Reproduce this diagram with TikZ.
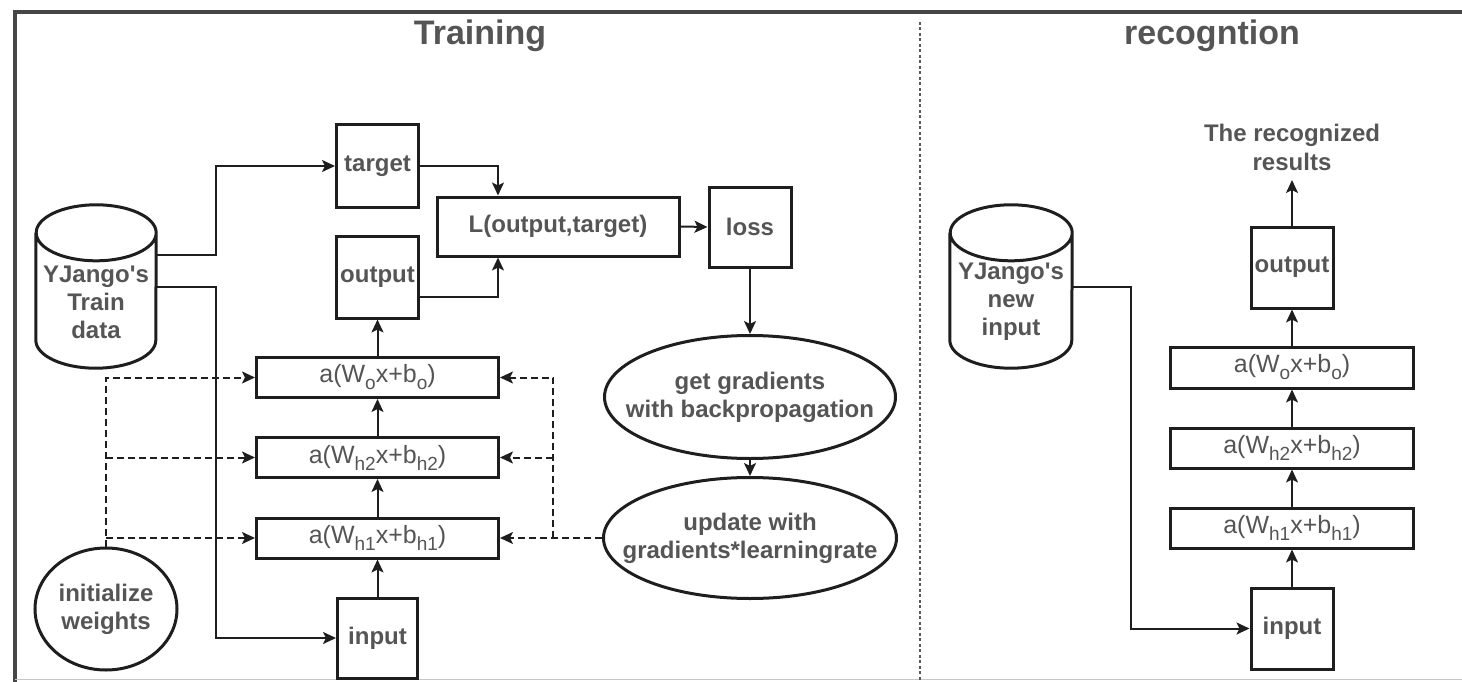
\documentclass[tikz,border=0pt]{standalone}
\usepackage{fontspec}
\setmainfont{Liberation Sans}
\usetikzlibrary{arrows.meta,shapes.geometric,calc}
\definecolor{lc}{HTML}{1E1E1E}
\definecolor{txt}{HTML}{555555}
\definecolor{fr}{HTML}{464646}

% lowered subscript used in the layer formulas
\newcommand{\sbs}[1]{\raisebox{-0.28em}{\fontsize{19}{19}\selectfont #1}}
% cylinder outline drawn around an (invisible) node: #1 node name, #2 x radius in pt
\newcommand{\dbshape}[2]{%
  \draw[lc, line width=3pt, fill=white]
    ([yshift=-28pt]#1.north west) -- ([yshift=28pt]#1.south west)
    arc[start angle=180, end angle=360, x radius=#2pt, y radius=28pt]
    -- ([yshift=-28pt]#1.north east)
    arc[start angle=0, end angle=180, x radius=#2pt, y radius=28pt]
    arc[start angle=180, end angle=360, x radius=#2pt, y radius=28pt];}

\begin{document}
\begin{tikzpicture}[x=1pt, y=-1pt,
  lbl/.style={text=txt, font=\fontsize{24}{28}\selectfont\bfseries, align=center, inner sep=0pt},
  box/.style={lbl, draw=lc, line width=3pt, rectangle, fill=white},
  sqbox/.style={box, minimum width=82pt, minimum height=82pt},
  layer/.style={box, minimum width=242pt, minimum height=40pt, font=\fontsize{25}{28}\selectfont},
  oval/.style={draw=lc, line width=3pt, ellipse, fill=white, inner sep=0pt},
  dbbox/.style={inner sep=0pt, minimum height=163pt},
  arr/.style={draw=lc, line width=2pt, -{Stealth[length=13pt,width=12pt,inset=3pt]}},
  darr/.style={arr, dash pattern=on 7pt off 4pt},
  title/.style={text=txt, font=\fontsize{34}{40}\selectfont\bfseries, inner sep=0pt, anchor=base},
]

\useasboundingbox (0,0) rectangle (1462,682);

% outer frame and the divider between the two panels
\draw[fr, line width=4pt] (15,682) -- (15,12) -- (1462,12);
\draw[gray!45, line width=1.5pt] (15,679.5) -- (1462,679.5);
\draw[gray!70!black, line width=1.5pt, dash pattern=on 3pt off 2.5pt] (920,22) -- (920,682);

% panel titles
\node[title] (ttrain) at (480,45) {Training};
\node[title] (trec) at (1212,45) {recogntion};

% ---------------- training ----------------
\node[dbbox, minimum width=120pt] (train) at (96,286.5) {};
\dbshape{train}{60}
\node[lbl] (trainlbl) at (96,302) {YJango\textquotesingle s\\Train\\data};

\node[sqbox] (target) at (377.5,166) {target};
\node[sqbox] (outT) at (377.5,277) {output};
\node[box, minimum width=242pt, minimum height=59pt] (Lfun) at (558,226.5) {L(output,target)};
\node[sqbox, minimum height=80pt] (loss) at (750,227) {loss};

\node[oval, minimum width=291pt, minimum height=123pt,
      label={[lbl]center:get gradients\\with backpropagation}] (grad) at (750,397) {};
\node[oval, minimum width=293pt, minimum height=121pt,
      label={[lbl]center:update with\\gradients*learningrate}] (upd) at (750,538) {};

\node[layer] (wo)  at (377.5,377.5) {a(W\sbs{o}x+b\sbs{o})};
\node[layer] (wh2) at (377.5,457.5) {a(W\sbs{h2}x+b\sbs{h2})};
\node[layer] (wh1) at (377.5,538) {a(W\sbs{h1}x+b\sbs{h1})};
\node[sqbox, minimum width=80pt, minimum height=80pt] (inT) at (377.5,638) {input};

\node[oval, minimum width=142pt, minimum height=122pt,
      label={[lbl]center:initialize\\weights}] (init) at (106,609) {};

% data flow
\draw[arr] ([yshift=31.5pt]train.east) -- ++(60,0) |- (target.west);
\draw[arr] (train.east) -- ++(60,0) |- (inT.west);
\draw[arr] (target.east) -| ([xshift=-60pt]Lfun.north);
\draw[arr] ([yshift=-20pt]outT.east) -| ([xshift=-60pt]Lfun.south);
\draw[arr] (Lfun.east) -- (loss.west);
\draw[arr] (loss.south) -- (grad.north);
\draw[arr] (grad.south) -- (upd.north);
\draw[arr] (inT.north) -- (wh1.south);
\draw[arr] (wh1.north) -- (wh2.south);
\draw[arr] (wh2.north) -- (wo.south);
\draw[arr] (wo.north) -- (outT.south);

% weight initialisation
\draw[darr] (init.north) |- (wo.west);
\draw[darr] (init.north |- wh2.west) -- (wh2.west);
\draw[darr] (init.north |- wh1.west) -- (wh1.west);

% weight update
\coordinate (jr) at (553,538);
\draw[darr] (upd.west) -- (wh1.east);
\draw[darr] (jr) |- (wo.east);
\draw[darr] (jr |- wh2.east) -- (wh2.east);

% ---------------- recognition ----------------
\node[dbbox, minimum width=122pt] (newin) at (1011,286.5) {};
\dbshape{newin}{61}
\node[lbl] (newinlbl) at (1011,302) {YJango\textquotesingle s\\new\\input};

\node[sqbox, minimum height=81pt] (inR) at (1292,628.5) {input};
\node[layer, minimum width=243pt] (rh1) at (1292,528) {a(W\sbs{h1}x+b\sbs{h1})};
\node[layer, minimum width=243pt] (rh2) at (1292,448) {a(W\sbs{h2}x+b\sbs{h2})};
\node[layer, minimum width=243pt, minimum height=41pt] (rwo) at (1292,367.5) {a(W\sbs{o}x+b\sbs{o})};
\node[sqbox, minimum height=81pt] (outR) at (1292,267.5) {output};
\node[lbl, font=\fontsize{24}{29}\selectfont\bfseries] (res) at (1292,147.5) {The recognized\\results};

\draw[arr] (newin.east) -- ++(59,0) |- (inR.west);
\draw[arr] (inR.north) -- (rh1.south);
\draw[arr] (rh1.north) -- (rh2.south);
\draw[arr] (rh2.north) -- (rwo.south);
\draw[arr] (rwo.north) -- (outR.south);
\draw[arr] (outR.north) -- ([yshift=-9pt]res.south);

\end{tikzpicture}
\end{document}
